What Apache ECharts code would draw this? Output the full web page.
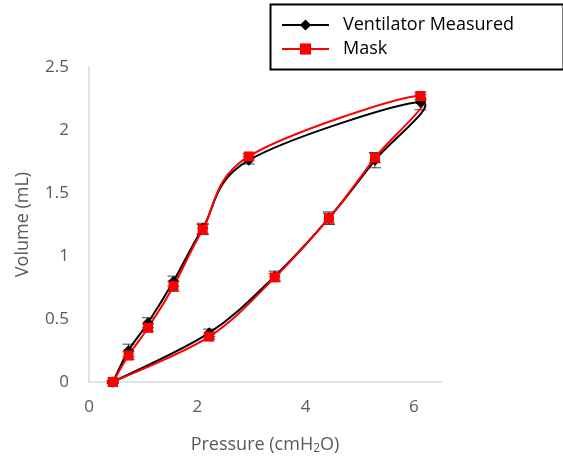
<!DOCTYPE html>
<html>
<head>
<meta charset="utf-8">
<script src="https://cdn.jsdelivr.net/npm/echarts@6/dist/echarts.min.js"></script>
<style>
  html, body { margin: 0; padding: 0; background: #fff; }
  #chart { width: 563px; height: 461px; }
</style>
</head>
<body>
<div id="chart"></div>
<script>
// loop: inflation branch up to the peak, then deflation branch back down
var pressure = [0.44, 0.73, 1.09, 1.56, 2.10, 2.95, 6.12, 5.28, 4.43, 3.43, 2.22, 0.44];
var ventVolume = [0, 0.25, 0.47, 0.80, 1.22, 1.76, 2.22, 1.76, 1.30, 0.84, 0.39, 0];
var ventErr = [0.01, 0.05, 0.04, 0.04, 0.04, 0.03, 0.06, 0.06, 0.05, 0.04, 0.03, 0.01];
var maskVolume = [0, 0.21, 0.43, 0.76, 1.21, 1.79, 2.27, 1.78, 1.30, 0.83, 0.36, 0];
var maskErr = [0.01, 0.03, 0.03, 0.04, 0.04, 0.02, 0.03, 0.04, 0.04, 0.03, 0.02, 0.01];
var xTicks = [0, 2, 4, 6];
var yTicks = [0, 0.5, 1, 1.5, 2, 2.5];

var chart = echarts.init(document.getElementById('chart'));

function pts(ys) {
    return pressure.map(function (p, i) { return [p, ys[i]]; });
}
function bars(ys, es) {
    return pressure.map(function (p, i) { return [p, ys[i] - es[i], ys[i] + es[i]]; });
}

// vertical error bar with caps
function renderErr(params, api) {
    var lo = api.coord([api.value(0), api.value(1)]);
    var hi = api.coord([api.value(0), api.value(2)]);
    var w = 6;
    var st = { stroke: '#404040', lineWidth: 1 };
    return {
        type: 'group',
        children: [
            { type: 'line', shape: { x1: lo[0], y1: lo[1], x2: hi[0], y2: hi[1] }, style: st },
            { type: 'line', shape: { x1: lo[0] - w, y1: lo[1], x2: lo[0] + w, y2: lo[1] }, style: st },
            { type: 'line', shape: { x1: hi[0] - w, y1: hi[1], x2: hi[0] + w, y2: hi[1] }, style: st }
        ]
    };
}

// excel style smoothed line: one bezier per segment, tangents from neighbours
function smoothLine(ys, color) {
    return function (params, api) {
        var i = params.dataIndex;
        var n = pressure.length;
        if (i >= n - 1) return null;
        var c = function (k) {
            k = Math.max(0, Math.min(n - 1, k));
            return api.coord([pressure[k], ys[k]]);
        };
        var p0 = c(i - 1), p1 = c(i), p2 = c(i + 1), p3 = c(i + 2);
        var t = 1 / 6;
        return {
            type: 'bezierCurve',
            shape: {
                x1: p1[0], y1: p1[1], x2: p2[0], y2: p2[1],
                cpx1: p1[0] + (p2[0] - p0[0]) * t, cpy1: p1[1] + (p2[1] - p0[1]) * t,
                cpx2: p2[0] - (p3[0] - p1[0]) * t, cpy2: p2[1] - (p3[1] - p1[1]) * t
            },
            style: { stroke: color, lineWidth: 2, fill: null }
        };
    };
}

var font = '"Open Sans", sans-serif';

var option = {
    animation: false,
    backgroundColor: '#fff',
    grid: { left: 89, top: 67, right: 122, bottom: 79 },
    legend: {
        left: 276, top: 11,
        orient: 'vertical',
        itemWidth: 47, itemHeight: 14, itemGap: 6,
        textStyle: { fontFamily: font, fontSize: 18, color: '#000', padding: [0, 0, 0, 9] },
        data: [
            { name: 'Ventilator Measured', lineStyle: { color: '#000', width: 2, opacity: 1 } },
            { name: 'Mask', lineStyle: { color: '#ff0000', width: 2, opacity: 1 } }
        ]
    },
    graphic: [{
        type: 'rect',
        left: 268, top: 2,
        shape: { width: 293, height: 65 },
        style: { fill: 'none', stroke: '#000', lineWidth: 2 },
        z: 10
    }],
    xAxis: {
        type: 'value', min: 0, max: 6.5, interval: 2,
        name: 'Pressure (cmH{sub|2}O)',
        nameLocation: 'middle', nameGap: 52,
        nameTextStyle: {
            fontFamily: font, fontSize: 18, color: '#595959',
            rich: { sub: { fontFamily: font, fontSize: 12, color: '#595959', verticalAlign: 'bottom', padding: [9, 0, 0, 0] } }
        },
        axisLine: { lineStyle: { color: '#d9d9d9', width: 1.5 } },
        axisTick: { show: false },
        splitLine: { show: false },
        axisLabel: {
            margin: 17, fontFamily: font, fontSize: 17, color: '#595959',
            formatter: function (v) { return xTicks.indexOf(v) >= 0 ? String(v) : ''; }
        }
    },
    yAxis: {
        type: 'value', min: 0, max: 2.5, interval: 0.5,
        name: 'Volume (mL)',
        nameLocation: 'middle', nameGap: 57,
        nameTextStyle: { fontFamily: font, fontSize: 18, color: '#595959' },
        axisLine: { show: true, lineStyle: { color: '#d9d9d9', width: 1.5 } },
        axisTick: { show: false },
        splitLine: { show: false },
        axisLabel: {
            margin: 20, fontFamily: font, fontSize: 17, color: '#595959',
            formatter: function (v) { return yTicks.indexOf(v) >= 0 ? String(v) : ''; }
        }
    },
    series: [
        {
            type: 'custom', renderItem: renderErr, data: bars(ventVolume, ventErr),
            encode: { x: 0, y: [1, 2] }, z: 1, silent: true
        },
        {
            type: 'custom', renderItem: renderErr, data: bars(maskVolume, maskErr),
            encode: { x: 0, y: [1, 2] }, z: 1, silent: true
        },
        {
            type: 'custom', renderItem: smoothLine(ventVolume, '#000'), data: pts(ventVolume),
            encode: { x: 0, y: 1 }, z: 2, silent: true
        },
        {
            type: 'custom', renderItem: smoothLine(maskVolume, '#ff0000'), data: pts(maskVolume),
            encode: { x: 0, y: 1 }, z: 3, silent: true
        },
        {
            name: 'Ventilator Measured', type: 'line',
            data: pts(ventVolume),
            symbol: 'diamond', symbolSize: 11, showAllSymbol: true,
            lineStyle: { color: '#000', width: 2, opacity: 0 },
            itemStyle: { color: '#000' }, z: 4
        },
        {
            name: 'Mask', type: 'line',
            data: pts(maskVolume),
            symbol: 'rect', symbolSize: 10, showAllSymbol: true,
            lineStyle: { color: '#ff0000', width: 2, opacity: 0 },
            itemStyle: { color: '#ff0000' }, z: 5
        }
    ]
};

chart.setOption(option);
</script>
</body>
</html>
